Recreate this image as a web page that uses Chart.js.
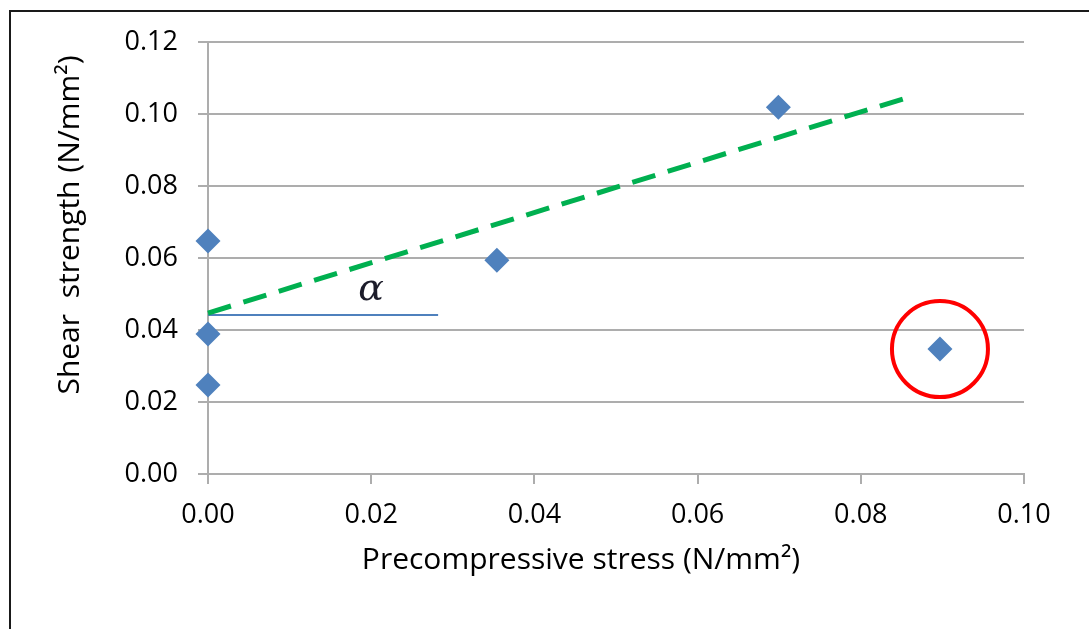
<!DOCTYPE html>
<html>
<head>
<meta charset="utf-8">
<script src="https://cdn.jsdelivr.net/npm/chart.js@4.4.1/dist/chart.umd.min.js"></script>
<style>
  html, body { margin: 0; padding: 0; background: #fff; }
  #wrap { position: relative; width: 1089px; height: 629px; overflow: hidden; }
  #frame { position: absolute; left: 9px; top: 10px; width: 1200px; height: 800px;
           border-left: 2px solid #1a1a1a; border-top: 2px solid #1a1a1a; pointer-events: none; }
  canvas { position: absolute; left: 0; top: 0; }
</style>
</head>
<body>
<div id="wrap">
  <canvas id="c" width="1089" height="629"></canvas>
  <div id="frame"></div>
</div>
<script>
// ---- data ----
const precompressive = [0.0, 0.0, 0.0, 0.0354, 0.0699, 0.0897];
const shearStrength  = [0.0647, 0.0389, 0.0247, 0.0594, 0.1019, 0.0347];
const trendX = [0.0, 0.0852];
const trendY = [0.0447, 0.1042];
const refLineX = [0.0, 0.0282];
const refLineY = [0.0442, 0.0442];
const outlierX = [0.0897];
const outlierY = [0.0347];
const alphaPos = [0.0200, 0.0511];
const xTicks = [0.00, 0.02, 0.04, 0.06, 0.08, 0.10];
const yTicks = [0.00, 0.02, 0.04, 0.06, 0.08, 0.10, 0.12];
const xTitle = 'Precompressive stress (N/mm\u00B2)';
const yTitle = 'Shear  strength (N/mm\u00B2)';

const zip = (xs, ys) => xs.map((x, i) => ({ x, y: ys[i] }));
const FONT = "'Open Sans', 'Liberation Sans', sans-serif";
const GRID = '#ADADAD';

const annotate = {
  id: 'annotate',
  afterDatasetsDraw(chart) {
    const { ctx, scales: { x, y }, chartArea } = chart;
    ctx.save();
    // alpha symbol
    ctx.fillStyle = '#1c1c2a';
    ctx.font = "italic 38px 'DejaVu Serif', 'Liberation Serif', serif";
    ctx.textAlign = 'center';
    ctx.textBaseline = 'middle';
    ctx.fillText('\u03B1', x.getPixelForValue(alphaPos[0]), y.getPixelForValue(alphaPos[1]));
    // axis titles
    ctx.fillStyle = '#000';
    ctx.font = '30px ' + FONT;
    ctx.fillText(xTitle, chartArea.left + 373, chartArea.bottom + 86);
    ctx.translate(chartArea.left - 138, chartArea.top + 183);
    ctx.rotate(-Math.PI / 2);
    ctx.fillText(yTitle, 0, 0);
    ctx.restore();
  }
};

new Chart(document.getElementById('c'), {
  type: 'scatter',
  data: {
    datasets: [
      {
        label: 'Outlier',
        data: zip(outlierX, outlierY),
        pointStyle: 'circle',
        pointRadius: 48,
        pointHoverRadius: 48,
        backgroundColor: 'rgba(0,0,0,0)',
        borderColor: '#FF0000',
        borderWidth: 4,
        clip: false,
        order: 0
      },
      {
        label: 'Data',
        data: zip(precompressive, shearStrength),
        pointStyle: 'rectRot',
        pointRadius: 12.5,
        pointHoverRadius: 12.5,
        backgroundColor: '#4F81BD',
        borderColor: '#4F81BD',
        borderWidth: 0,
        clip: false,
        order: 1
      },
      {
        type: 'line',
        label: 'Trend',
        data: zip(trendX, trendY),
        borderColor: '#00B050',
        borderWidth: 5,
        borderDash: [24, 13],
        pointRadius: 0,
        fill: false,
        clip: false,
        order: 2
      },
      {
        type: 'line',
        label: 'Horizontal',
        data: zip(refLineX, refLineY),
        borderColor: '#4F81BD',
        borderWidth: 2,
        pointRadius: 0,
        fill: false,
        clip: false,
        order: 3
      }
    ]
  },
  options: {
    responsive: false,
    animation: false,
    events: [],
    layout: { autoPadding: false, padding: { left: 0, right: 65, top: 42, bottom: 0 } },
    plugins: { legend: { display: false }, tooltip: { enabled: false } },
    scales: {
      x: {
        type: 'linear',
        min: 0, max: 0.10,
        afterFit(s) { s.height = 155; s.paddingLeft = 0; s.paddingRight = 0; },
        afterBuildTicks(s) { s.ticks = xTicks.map(v => ({ value: v })); },
        grid: { drawOnChartArea: false, drawTicks: true, tickLength: 10, color: GRID, lineWidth: 2 },
        border: { display: true, color: GRID, width: 2 },
        ticks: {
          font: { family: FONT, size: 27 },
          color: '#000',
          padding: 15,
          maxRotation: 0,
          callback: v => v.toFixed(2)
        }
      },
      y: {
        type: 'linear',
        min: 0, max: 0.12,
        afterFit(s) { s.width = 208; s.paddingTop = 0; s.paddingBottom = 0; },
        afterBuildTicks(s) { s.ticks = yTicks.map(v => ({ value: v })); },
        grid: { drawOnChartArea: true, drawTicks: true, tickLength: 10, color: GRID, lineWidth: 2 },
        border: { display: true, color: GRID, width: 2 },
        ticks: {
          font: { family: FONT, size: 27 },
          color: '#000',
          padding: 20,
          callback: v => v.toFixed(2)
        }
      }
    }
  },
  plugins: [annotate]
});
</script>
</body>
</html>
